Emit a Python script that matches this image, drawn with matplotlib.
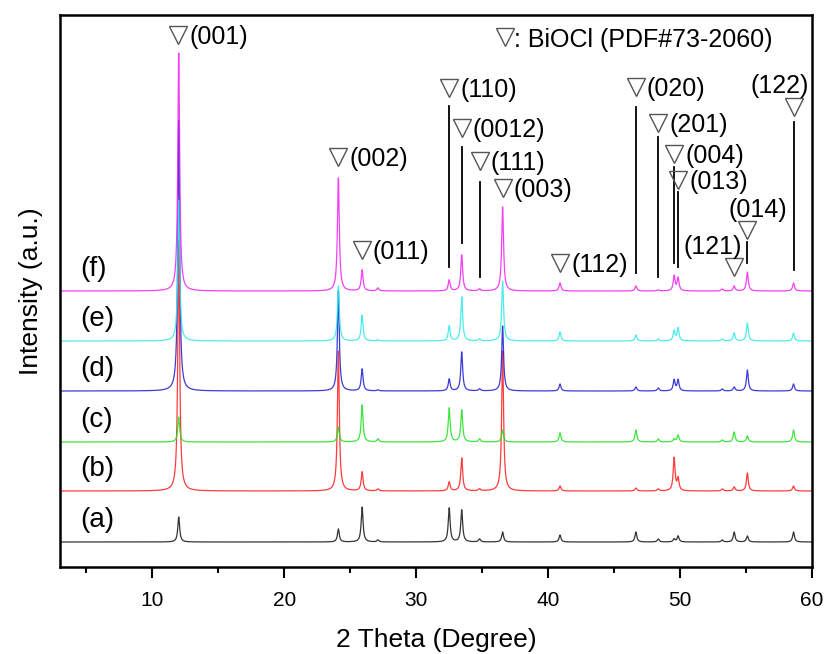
import numpy as np
import matplotlib
matplotlib.use('Agg')
import matplotlib.pyplot as plt

plt.rcParams['font.family'] = ['Liberation Sans', 'DejaVu Sans']

# ---- data -------------------------------------------------------------
peak_positions = [12.0, 24.1, 25.9, 27.1, 32.5, 33.45, 34.8, 36.55, 40.9,
                  46.65, 48.35, 49.55, 49.85, 53.2, 54.1, 55.1, 58.6]
sample_labels = ['(a)', '(b)', '(c)', '(d)', '(e)', '(f)']
heights_a = [25, 13, 35, 2, 34, 32, 3, 10, 7, 10, 3, 3, 6, 2, 10, 6, 10]
heights_b = [251, 140, 19, 2, 9, 33, 2, 140, 5, 3, 2, 33, 12, 2, 4, 18, 5]
heights_c = [25, 15, 37, 3, 34, 32, 3, 12, 9, 12, 3, 3, 7, 2, 10, 6, 12]
heights_d = [271, 100, 22, 1, 12, 39, 2, 65, 7, 4, 3, 11, 11, 2, 4, 21, 7]
heights_e = [141, 55, 26, 1, 15, 44, 2, 60, 9, 6, 2, 10, 13, 2, 8, 18, 8]
heights_f = [238, 113, 21, 3, 11, 36, 2, 84, 8, 5, 1, 15, 13, 2, 5, 19, 8]
all_heights = [heights_a, heights_b, heights_c, heights_d, heights_e, heights_f]
baselines = [25, 76, 125, 176, 226, 276]

hkl_labels = ['(001)', '(002)', '(011)', '(110)', '(0012)', '(111)', '(003)',
              '(112)', '(020)', '(201)', '(004)', '(013)']
hkl_x = [11.95, 24.1, 25.86, 32.5, 33.45, 34.8, 36.55, 40.9, 46.65, 48.35,
         49.55, 49.85]
hkl_tri_y = [532, 410, 317, 479, 439, 406, 379, 304, 480, 444, 413, 387]
hkl_line_top = [None, None, None, 461, 420, 385, None, None, 460, 430, 400, 375]
hkl_line_bot = [None, None, None, 300, 324, 290, None, None, 294, 290, 304, 300]

# labels placed above their triangle
top_labels = ['(121)', '(014)', '(122)']
top_x = [54.1, 55.1, 58.6]
top_tri_y = [300, 337, 460]
top_line_top = [None, 325, 445]
top_line_bot = [None, 304, 297]
top_text_x = [52.45, 55.9, 57.55]
top_text_y = [320, 357, 481]

colors = ['#111111', '#ff1a1a', '#1ee01e', '#1a1ad0', '#2ee8e8', '#f020f0']

x = np.linspace(3, 60, 8000)
fwhm = 0.17


def pattern(heights):
    g = (fwhm / 2) ** 2
    y = np.zeros_like(x)
    for p, h in zip(peak_positions, heights):
        y += h * g / ((x - p) ** 2 + g)
    return y


fig = plt.figure(figsize=(8.28, 6.54), dpi=100)
ax = fig.add_axes([60 / 828, 87 / 654, 752 / 828, 552 / 654])

for base, h, c, lab in zip(baselines, all_heights, colors, sample_labels):
    ax.plot(x, base + pattern(h), color=c, lw=0.9, alpha=0.85)
    ax.text(4.5, base + 22, lab, fontsize=20, va='center', ha='left')

tri_kw = dict(marker='v', ms=12.5, mfc='none', mec='#555555', mew=1.0, ls='none')

for lab, xp, ty, lt, lb in zip(hkl_labels, hkl_x, hkl_tri_y, hkl_line_top, hkl_line_bot):
    ax.plot([xp], [ty], **tri_kw)
    ax.annotate(lab, (xp, ty), xytext=(11, -2), textcoords='offset pixels',
                fontsize=18, va='center', ha='left')
    if lt is not None:
        ax.plot([xp, xp], [lb, lt], color='black', lw=1.3)

for lab, xp, ty, lt, lb, tx, tyy in zip(top_labels, top_x, top_tri_y, top_line_top,
                                        top_line_bot, top_text_x, top_text_y):
    ax.plot([xp], [ty], **tri_kw)
    ax.text(tx, tyy, lab, fontsize=18, va='center', ha='center')
    if lt is not None:
        ax.plot([xp, xp], [lb, lt], color='black', lw=1.3)

# reference legend
ax.plot([36.7], [530], **tri_kw)
ax.text(37.45, 527, ': BiOCl (PDF#73-2060)', fontsize=18, va='center', ha='left')

ax.set_xlim(3, 60)
ax.set_ylim(0, 552)
ax.set_yticks([])
ax.set_xticks([10, 20, 30, 40, 50, 60])
ax.set_xticks([5, 15, 25, 35, 45, 55], minor=True)
ax.tick_params(axis='x', which='major', direction='out', length=8, width=1.5,
               labelsize=15, pad=9)
ax.tick_params(axis='x', which='minor', direction='out', length=4, width=1.5)
for s in ax.spines.values():
    s.set_linewidth(1.8)
ax.set_xlabel('2 Theta (Degree)', fontsize=19, labelpad=13)
ax.set_ylabel('Intensity (a.u.)', fontsize=19, labelpad=12)

fig.savefig('out.png', dpi=100)
